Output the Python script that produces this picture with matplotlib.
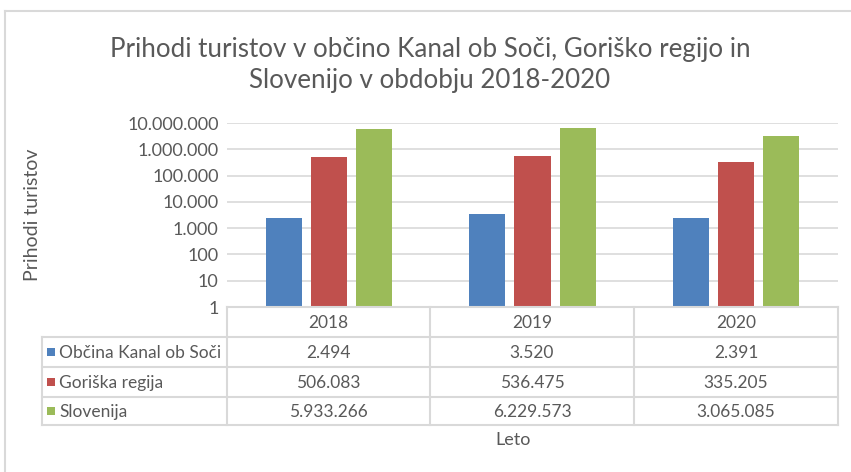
import matplotlib
matplotlib.use("Agg")
import matplotlib.pyplot as plt
from matplotlib.lines import Line2D
from matplotlib.patches import Rectangle
from matplotlib.ticker import FixedLocator, FuncFormatter
import numpy as np

years = ["2018", "2019", "2020"]
series_names = ["Občina Kanal ob Soči", "Goriška regija", "Slovenija"]
kanal = [2494, 3520, 2391]
goriska = [506083, 536475, 335205]
slovenija = [5933266, 6229573, 3065085]
series_values = [kanal, goriska, slovenija]
colors = ["#4F81BD", "#C0504D", "#9BBB59"]
yticks = [1, 10, 100, 1000, 10000, 100000, 1000000, 10000000]

title = "Prihodi turistov v občino Kanal ob Soči, Goriško regijo in\nSlovenijo v obdobju 2018-2020"
ylabel = "Prihodi turistov"
xlabel = "Leto"

TXT = "#595959"
GRID = "#D9D9D9"
FONT = "Lato"
plt.rcParams["font.family"] = [FONT, "DejaVu Sans"]

W, H = 851, 472
fig = plt.figure(figsize=(W / 100, H / 100), dpi=100)

def fx(x):
    return x / W

def fy(y):
    return 1 - y / H

# plot area
L, R, T, B = 227, 838, 123, 307
ax = fig.add_axes([fx(L), fy(B), fx(R) - fx(L), fy(T) - fy(B)])
ax.set_yscale("log")
ax.set_ylim(1, 1e7)
ax.set_xlim(-0.5, len(years) - 0.5)

def fmt(v, pos=None):
    return f"{int(round(v)):,}".replace(",", ".")

ax.yaxis.set_major_locator(FixedLocator(yticks))
ax.yaxis.set_minor_locator(FixedLocator([]))
ax.yaxis.set_major_formatter(FuncFormatter(fmt))
ax.tick_params(axis="y", length=0, pad=6, labelsize=13, labelcolor=TXT)
ax.tick_params(axis="x", length=0, labelbottom=False)
ax.grid(axis="y", color=GRID, linewidth=1.2)
ax.set_axisbelow(True)
for s in ax.spines.values():
    s.set_visible(False)

x = np.arange(len(years))
bw = 36 / 203.6
off = 45 / 203.6
for i, (vals, c) in enumerate(zip(series_values, colors)):
    ax.bar(x + (i - 1) * off, vals, width=bw, color=c, bottom=1, zorder=3)

# title
fig.text(fx(430), fy(65), title, ha="center", va="center", fontsize=18.7,
         color=TXT, linespacing=1.3)
# y label
fig.text(fx(33), fy(215), ylabel, rotation=90, ha="center", va="center",
         fontsize=14, color=TXT)
# x label
fig.text(fx(513), fy(440), xlabel, ha="center", va="center", fontsize=13, color=TXT)

# chart border (cropped)
fig.add_artist(Line2D([fx(5), fx(851)], [fy(11), fy(11)], color=GRID, lw=1.5))
fig.add_artist(Line2D([fx(5), fx(5)], [fy(11), fy(472)], color=GRID, lw=1.5))

# data table
cols = [227, 430, 634, 838]
rows = [307, 337, 367, 397, 425]
TL = 42
def hline(x0, x1, y):
    fig.add_artist(Line2D([fx(x0), fx(x1)], [fy(y), fy(y)], color=GRID, lw=1.5))
def vline(x, y0, y1):
    fig.add_artist(Line2D([fx(x), fx(x)], [fy(y0), fy(y1)], color=GRID, lw=1.5))

hline(cols[0], cols[-1], rows[0])
for y in rows[1:]:
    hline(TL, cols[-1], y)
for xc in cols:
    vline(xc, rows[0], rows[-1])
vline(TL, rows[1], rows[-1])

for j, yr in enumerate(years):
    fig.text(fx((cols[j] + cols[j + 1]) / 2), fy((rows[0] + rows[1]) / 2 + 1), yr,
             ha="center", va="center", fontsize=12.5, color=TXT)
for i, (name, vals, c) in enumerate(zip(series_names, series_values, colors)):
    yc = (rows[i + 1] + rows[i + 2]) / 2
    fig.add_artist(Rectangle((fx(47), fy(yc + 4)), fx(8), fy(0) - fy(8),
                             facecolor=c, edgecolor="none"))
    fig.text(fx(59), fy(yc + 1), name, ha="left", va="center", fontsize=12.5, color=TXT)
    for j, v in enumerate(vals):
        fig.text(fx((cols[j] + cols[j + 1]) / 2), fy(yc + 1), fmt(v),
                 ha="center", va="center", fontsize=12.5, color=TXT)

fig.savefig("out.png", dpi=100, facecolor="white")
